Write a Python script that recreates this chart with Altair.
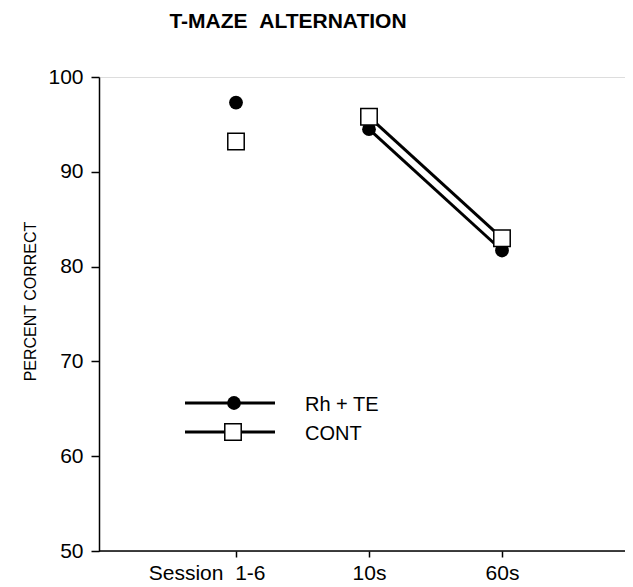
import altair as alt
import pandas as pd

# ---- data ----
conditions = ["Session 1-6", "10s", "60s"]
rh_te = [97.3, 94.5, 81.7]
cont = [93.2, 95.8, 83.0]
groups = ["Rh + TE", "CONT"]
y_ticks = [50, 60, 70, 80, 90, 100]

rows = []
for c, a, b in zip(conditions, rh_te, cont):
    rows.append({"cond": c, "group": groups[0], "value": a})
    rows.append({"cond": c, "group": groups[1], "value": b})
df = pd.DataFrame(rows)
df_lines = df[df["cond"] != conditions[0]]

FONT = "Liberation Sans"
W, H = 526, 474
NB = "\u00a0"

xenc = alt.X(
    "cond:N",
    sort=conditions,
    scale=alt.Scale(type="point", domain=conditions, range=[137, 403], padding=0),
    axis=alt.Axis(
        title=None,
        domain=False,
        ticks=True,
        tickSize=6,
        tickColor="black",
        tickWidth=1.5,
        labelFont=FONT,
        labelFontSize=21,
        labelColor="black",
        labelPadding=5,
        labelAngle=0,
        labelAlign={"condition": {"test": "datum.value == 'Session 1-6'", "value": "right"}, "value": "center"},
        labelOffset={"condition": {"test": "datum.value == 'Session 1-6'", "value": 29}, "value": 0},
        labelExpr="datum.value == 'Session 1-6' ? 'Session" + NB + NB + "1-6' : datum.value",
    ),
)
yenc = alt.Y(
    "value:Q",
    scale=alt.Scale(domain=[50, 100], nice=False, zero=False),
    axis=alt.Axis(
        values=y_ticks,
        title="PERCENT CORRECT",
        titleFont=FONT,
        titleFontSize=16,
        titleFontWeight="normal",
        titleColor="black",
        titlePadding=9,
        titleY=224,
        labelFont=FONT,
        labelFontSize=21,
        labelColor="black",
        labelPadding=8,
        tickSize=8,
        tickColor="black",
        tickWidth=1.5,
        domainColor="black",
        domainWidth=1.5,
        grid=False,
    ),
)

lines = alt.Chart(df_lines).mark_line(color="black", strokeWidth=3).encode(
    x=xenc, y=yenc, detail="group:N"
)
circles = alt.Chart(df[df["group"] == groups[0]]).mark_point(
    shape="circle", filled=True, color="black", size=190, opacity=1
).encode(x=xenc, y=yenc)
squares = alt.Chart(df[df["group"] == groups[1]]).mark_point(
    shape="square", filled=True, fill="white", stroke="black", strokeWidth=1.5, size=270, opacity=1
).encode(x=xenc, y=yenc)

xaxis_line = alt.Chart(pd.DataFrame({"a": [0]})).mark_rule(color="black", strokeWidth=1.5).encode(
    x=alt.value(0), x2=alt.value(W), y=alt.value(H)
)

# ---- legend drawn inside the plot ----
leg_y = [326, 355]
leg = []
for g, yy, shp in zip(groups, leg_y, ["circle", "square"]):
    base = alt.Chart(pd.DataFrame({"label": [g]}))
    leg.append(base.mark_rule(color="black", strokeWidth=3).encode(
        x=alt.value(86), x2=alt.value(176), y=alt.value(yy)))
    if shp == "circle":
        leg.append(base.mark_point(shape="circle", filled=True, color="black", size=190, opacity=1).encode(
            x=alt.value(135), y=alt.value(yy)))
    else:
        leg.append(base.mark_point(shape="square", filled=True, fill="white", stroke="black",
                                   strokeWidth=1.5, size=270, opacity=1).encode(
            x=alt.value(134), y=alt.value(yy)))
    leg.append(base.mark_text(align="left", baseline="middle", font=FONT, fontSize=20, color="black",
                              dy=2).encode(
        x=alt.value(206), y=alt.value(yy), text="label:N"))

chart = alt.layer(lines, circles, squares, xaxis_line, *leg).properties(
    width=W,
    height=H,
    autosize=alt.AutoSizeParams(type="none"),
    padding={"left": 91, "top": 69, "right": 0, "bottom": 34},
    title=alt.TitleParams(
        "T-MAZE" + NB + NB + "ALTERNATION",
        font=FONT,
        fontSize=21,
        fontWeight="bold",
        color="black",
        anchor="middle",
        dx=-74,
        offset=34,
    ),
).configure_view(stroke=None).configure(background="white")

chart.save("out.html", embed_options={"renderer": "svg", "actions": False})
